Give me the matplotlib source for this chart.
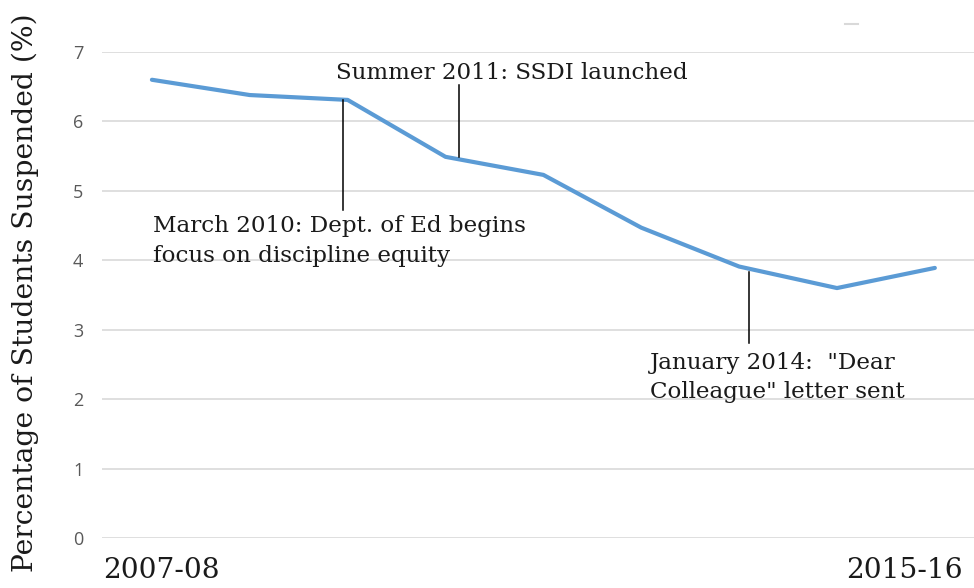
import matplotlib
matplotlib.use("Agg")
import matplotlib.pyplot as plt
from matplotlib.lines import Line2D

years = ["2007-08", "2008-09", "2009-10", "2010-11", "2011-12",
         "2012-13", "2013-14", "2014-15", "2015-16"]
pct_suspended = [6.60, 6.38, 6.31, 5.49, 5.23, 4.47, 3.91, 3.60, 3.89]
y_ticks = [0, 1, 2, 3, 4, 5, 6, 7]

serif = "DejaVu Serif"

fig = plt.figure(figsize=(9.74, 5.88), dpi=100)
ax = fig.add_axes([102/974, 50/588, 872/974, 486/588])

x = list(range(len(years)))
ax.plot(x, pct_suspended, color="#5B9BD5", lw=3.0, solid_capstyle="round",
        solid_joinstyle="round", zorder=3)

ax.set_ylim(0, 7)
ax.set_xlim(-0.51, 8.40)
ax.set_yticks(y_ticks)
ax.set_yticklabels([str(t) for t in y_ticks], color="#595959",
                   fontfamily="Open Sans", fontsize=13)
ax.tick_params(axis="y", length=0, pad=13.5)
ax.set_xticks([])
ax.grid(axis="y", color="#D9D9D9", lw=1.2, zorder=0)
for s in ax.spines.values():
    s.set_visible(False)

# x labels (only first and last)
trans = matplotlib.transforms.blended_transform_factory(ax.transData, ax.transAxes)
ax.text(0.10, -0.066, years[0], transform=trans, ha="center", va="center",
        fontfamily=serif, fontsize=20.2, color="#1a1a1a")
ax.text(7.69, -0.066, years[-1], transform=trans, ha="center", va="center",
        fontfamily=serif, fontsize=20.2, color="#1a1a1a")

# y label
fig.text(25/974, 1 - 293/588, "Percentage of Students Suspended (%)",
         rotation=90, ha="center", va="center", fontfamily=serif,
         fontsize=20.3, color="#1a1a1a")

# annotations
fs_ann = 16.6
ax.plot([1.95, 1.95], [6.31, 4.73], color="black", lw=1.1, zorder=4)
ax.text(0.01, 4.28, "March 2010: Dept. of Ed begins\nfocus on discipline equity",
        ha="left", va="center", fontfamily=serif, fontsize=fs_ann,
        linespacing=1.45, color="#1a1a1a")

ax.plot([3.14, 3.14], [6.53, 5.49], color="black", lw=1.1, zorder=4)
ax.text(3.68, 6.70, "Summer 2011: SSDI launched", ha="center", va="center",
        fontfamily=serif, fontsize=fs_ann, color="#1a1a1a")

ax.plot([6.10, 6.10], [3.83, 2.81], color="black", lw=1.1, zorder=4)
ax.text(5.09, 2.31, "January 2014:  \"Dear\nColleague\" letter sent",
        ha="left", va="center", fontfamily=serif, fontsize=fs_ann,
        linespacing=1.45, color="#1a1a1a")

# small stray mark at top right
fig.add_artist(Line2D([845/974, 858/974], [1 - 24/588, 1 - 24/588],
                      color="#D9D9D9", lw=1.5))

fig.savefig("out.png", dpi=100, facecolor="white")
